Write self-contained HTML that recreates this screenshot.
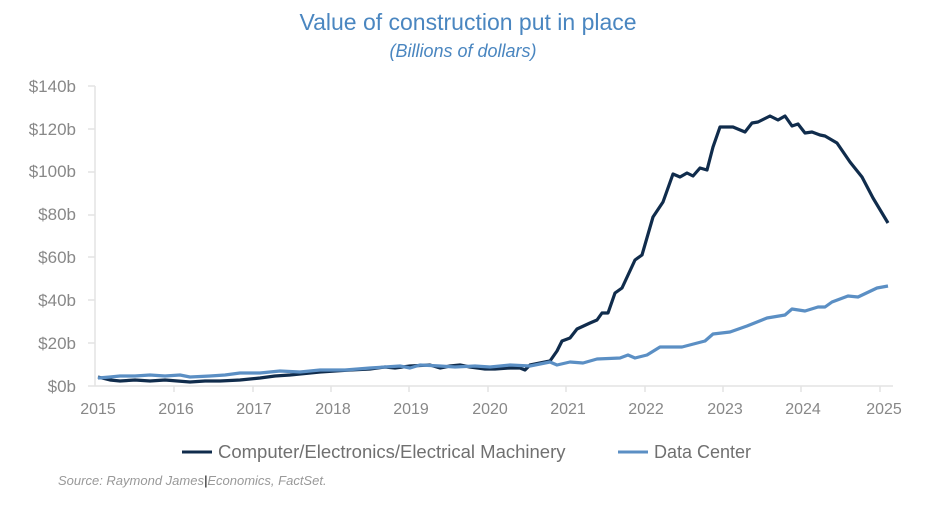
<!DOCTYPE html>
<html><head><meta charset="utf-8"><style>
html,body{margin:0;padding:0;background:#fff;width:936px;height:510px;overflow:hidden}
svg{display:block;font-family:"Liberation Sans",Calibri,sans-serif}
</style></head><body>
<svg width="936" height="510" viewBox="0 0 936 510">
<text x="468" y="30" text-anchor="middle" font-size="23" fill="#4a86c0">Value of construction put in place</text>
<text x="463" y="57" text-anchor="middle" font-size="18" font-style="italic" fill="#4a86c0">(Billions of dollars)</text>
<g font-size="17" fill="#888" text-anchor="end">
<text x="76" y="392">$0b</text><text x="76" y="349">$20b</text><text x="76" y="306">$40b</text>
<text x="76" y="263">$60b</text><text x="76" y="220">$80b</text><text x="76" y="177">$100b</text>
<text x="76" y="135">$120b</text><text x="76" y="92">$140b</text>
</g>
<g stroke="#e3e3e3" stroke-width="1.5">
<line x1="95" y1="86" x2="95" y2="386"/><line x1="88" y1="86" x2="95" y2="86"/>
<line x1="88" y1="129" x2="95" y2="129"/><line x1="88" y1="172" x2="95" y2="172"/>
<line x1="88" y1="215" x2="95" y2="215"/><line x1="88" y1="257" x2="95" y2="257"/>
<line x1="88" y1="300" x2="95" y2="300"/><line x1="88" y1="343" x2="95" y2="343"/>
<line x1="88" y1="386" x2="893" y2="386"/>
<line x1="174" y1="386" x2="174" y2="392"/><line x1="253" y1="386" x2="253" y2="392"/>
<line x1="331" y1="386" x2="331" y2="392"/><line x1="409" y1="386" x2="409" y2="392"/>
<line x1="488" y1="386" x2="488" y2="392"/><line x1="566" y1="386" x2="566" y2="392"/>
<line x1="645" y1="386" x2="645" y2="392"/><line x1="723" y1="386" x2="723" y2="392"/>
<line x1="801" y1="386" x2="801" y2="392"/><line x1="880" y1="386" x2="880" y2="392"/>
</g>
<g font-size="16" fill="#888" text-anchor="middle">
<text x="98" y="414">2015</text><text x="176" y="414">2016</text><text x="254" y="414">2017</text>
<text x="333" y="414">2018</text><text x="411" y="414">2019</text><text x="490" y="414">2020</text>
<text x="568" y="414">2021</text><text x="646" y="414">2022</text><text x="725" y="414">2023</text>
<text x="803" y="414">2024</text><text x="884" y="414">2025</text>
</g>
<polyline fill="none" stroke="#102c4c" stroke-width="3.2" stroke-linejoin="round" points="98,377 110,380 120,381 135,380 150,381 165,380 190,382 205,381 220,381 240,380 260,378 275,376 290,375 320,372 350,370 370,369 385,367 395,368 410,366 430,365 440,368 450,366 460,365 470,367 485,369 495,369 510,368 520,368 525,370 530,365 550,361 557,351 562,341 570,338 577,329 590,323 597,320 602,313 608,313 615,293 622,288 635,260 642,255 653,217 663,202 673,174 680,177 687,173 693,176 700,168 707,170 713,147 720,127 733,127 745,132 752,123 758,122 770,116 778,120 785,116 792,126 798,124 805,133 812,132 820,135 825,136 837,143 850,162 862,177 873,198 888,223"/>
<polyline fill="none" stroke="#5b8fc4" stroke-width="3.2" stroke-linejoin="round" points="98,378 110,377 120,376 135,376 150,375 165,376 180,375 190,377 210,376 225,375 240,373 260,373 280,371 300,372 320,370 345,370 370,368 400,366 410,368 420,365 440,366 455,367 475,366 490,367 510,365 530,366 550,362 557,365 570,362 583,363 597,359 620,358 628,355 635,358 647,355 660,347 682,347 705,341 713,334 730,332 747,326 767,318 785,315 792,309 805,311 818,307 825,307 832,302 848,296 858,297 877,288 888,286"/>
<line x1="182" y1="452" x2="212" y2="452" stroke="#102c4c" stroke-width="3"/>
<text x="218" y="458" font-size="18.5" fill="#707070">Computer/Electronics/Electrical Machinery</text>
<line x1="618" y1="452" x2="648" y2="452" stroke="#5b8fc4" stroke-width="3"/>
<text x="654" y="458" font-size="18" fill="#707070">Data Center</text>
<text x="58" y="485" font-size="13" font-style="italic" fill="#999">Source: Raymond James<tspan fill="#000">|</tspan>Economics, FactSet.</text>
</svg>
</body></html>
